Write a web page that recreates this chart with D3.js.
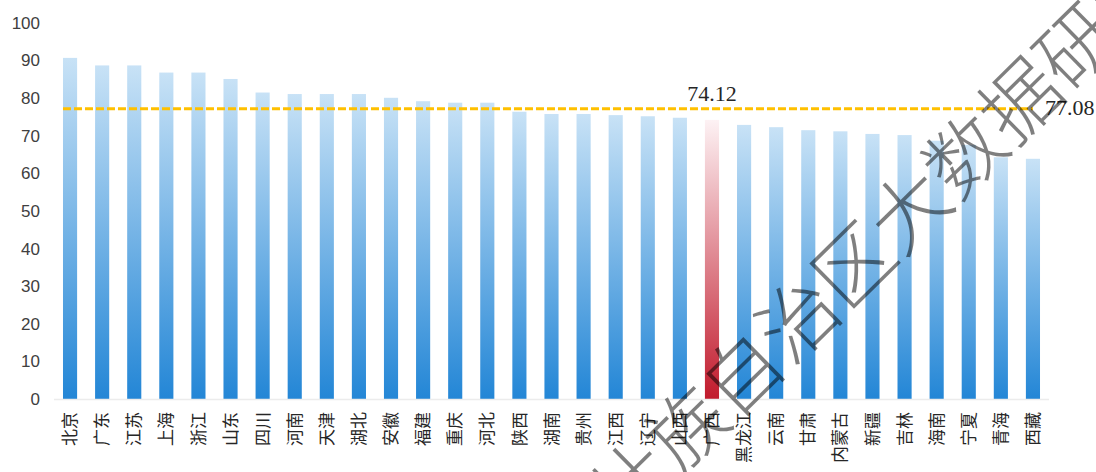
<!DOCTYPE html>
<html>
<head>
<meta charset="utf-8">
<script src="https://cdn.jsdelivr.net/npm/d3@7"></script>
<style>
  body { margin: 0; background: #fff; }
  .tick_labels { font-family: "Liberation Sans", Arial, sans-serif; font-size: 17px; fill: #404040; }
  .cat_labels { font-family: "Noto Sans CJK SC", sans-serif; font-size: 17px; fill: #262626; }
  .value_labels { font-family: "Liberation Serif", "Times New Roman", serif; font-size: 22px; fill: #262626; }
</style>
</head>
<body>
<div id="chart"></div>
<script>
// Provinces, sorted as in the picture
const provinces = ["北京","广东","江苏","上海","浙江","山东","四川","河南","天津","湖北",
  "安徽","福建","重庆","河北","陕西","湖南","贵州","江西","辽宁","山西",
  "广西","黑龙江","云南","甘肃","内蒙古","新疆","吉林","海南","宁夏","青海","西藏"]

// Index values
const scores = [90.6, 88.6, 88.6, 86.7, 86.7, 85.0, 81.4, 81.0, 81.0, 81.0,
  80.0, 79.1, 78.7, 78.7, 76.3, 75.7, 75.7, 75.4, 75.1, 74.7,
  74.12, 72.8, 72.2, 71.4, 71.1, 70.4, 70.1, 68.6, 67.5, 64.2, 63.8]

// Highlighted province and the national average
const highlight = "广西"
const average = 77.08

// Y axis ticks
const yTicks = [0, 10, 20, 30, 40, 50, 60, 70, 80, 90, 100]

const watermark = "广西壮族自治区大数据研究院"

const width = 1096
const height = 472

const svg = d3.select("#chart").append("svg")
  .attr("width", width)
  .attr("height", height)

const defs = svg.append("defs")

function addGradient(id, top, bottom) {
  const g = defs.append("linearGradient")
    .attr("id", id)
    .attr("x1", 0).attr("y1", 0).attr("x2", 0).attr("y2", 1)
  g.append("stop").attr("offset", "0%").attr("stop-color", top)
  g.append("stop").attr("offset", "100%").attr("stop-color", bottom)
}
addGradient("blueGrad", "#c8e2f6", "#2386d6")
addGradient("redGrad", "#fdf2f4", "#c11a2c")

// Scales
const xScale = d3.scaleBand()
  .domain(provinces)
  .range([54, 1049])
  .paddingInner(0.56)
  .paddingOuter(0.28)

const yScale = d3.scaleLinear()
  .domain([0, 100])
  .range([399, 22.5])

const data = provinces.map((p, i) => ({ name: p, value: scores[i] }))

// Y tick labels (no axis line)
svg.selectAll(".tick_labels")
  .data(yTicks)
  .join("text")
  .attr("class", "tick_labels")
  .attr("x", 40)
  .attr("y", d => yScale(d))
  .attr("dy", "0.36em")
  .attr("text-anchor", "end")
  .text(d => d)

// Bars
svg.selectAll("rect.bar")
  .data(data)
  .join("rect")
  .attr("class", "bar")
  .attr("x", d => xScale(d.name))
  .attr("width", xScale.bandwidth())
  .attr("y", d => yScale(d.value))
  .attr("height", d => yScale(0) - yScale(d.value))
  .attr("fill", d => d.name === highlight ? "url(#redGrad)" : "url(#blueGrad)")

// X axis line
svg.append("line")
  .attr("x1", xScale.range()[0])
  .attr("x2", xScale.range()[1])
  .attr("y1", yScale(0) + 0.5)
  .attr("y2", yScale(0) + 0.5)
  .attr("stroke", "#ececec")
  .attr("stroke-width", 1.5)

// Category labels, rotated
svg.selectAll(".cat_labels")
  .data(provinces)
  .join("text")
  .attr("class", "cat_labels")
  .attr("transform", d => `translate(${xScale(d) + xScale.bandwidth() / 2}, 412) rotate(-90)`)
  .attr("dy", "0.36em")
  .attr("text-anchor", "end")
  .text(d => d)

// Average dashed line
const firstX = xScale(provinces[0])
const lastX = xScale(provinces[provinces.length - 1]) + xScale.bandwidth() / 2
svg.append("line")
  .attr("x1", firstX)
  .attr("x2", lastX)
  .attr("y1", yScale(average))
  .attr("y2", yScale(average))
  .attr("stroke", "#ffc000")
  .attr("stroke-width", 3)
  .attr("stroke-dasharray", "8,3")

svg.append("text")
  .attr("class", "value_labels")
  .attr("x", lastX + 12)
  .attr("y", yScale(average))
  .attr("dy", "0.3em")
  .text(average.toFixed(2))

// Highlight value label
const hVal = scores[provinces.indexOf(highlight)]
svg.append("text")
  .attr("class", "value_labels")
  .attr("x", xScale(highlight) + xScale.bandwidth() / 2)
  .attr("y", yScale(hVal) - 19)
  .attr("text-anchor", "middle")
  .text(hVal.toFixed(2))

// Watermark
svg.append("text")
  .attr("transform", "translate(854, 265) rotate(-44.5)")
  .attr("text-anchor", "middle")
  .attr("dy", "0.36em")
  .style("font-family", "'Noto Sans CJK SC', sans-serif")
  .style("font-size", "78px")
  .style("font-weight", 200)
  .attr("fill", "#000")
  .attr("fill-opacity", 0.5)
  .text(watermark)
</script>
</body>
</html>
